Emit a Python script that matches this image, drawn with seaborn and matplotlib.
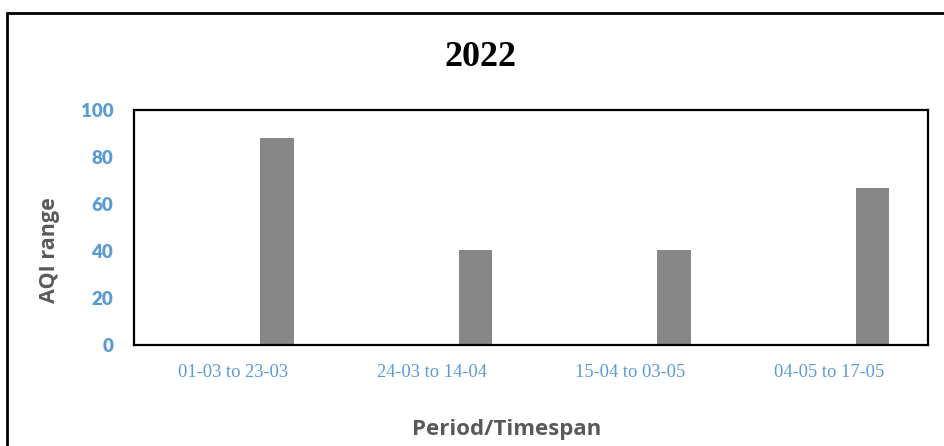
import matplotlib
matplotlib.use("Agg")
import matplotlib.pyplot as plt
from matplotlib.lines import Line2D
import seaborn as sns
import pandas as pd

# data
periods = ["01-03 to 23-03", "24-03 to 14-04", "15-04 to 03-05", "04-05 to 17-05"]
aqi = [88, 40.5, 40.3, 67]
yticks = [0, 20, 40, 60, 80, 100]

BLUE = "#5B9BD5"
GREY_TXT = "#595959"
BAR = "#878787"


def main():
    sns.set_style("white")
    df = pd.DataFrame({"period": periods, "aqi": aqi})

    fig = plt.figure(figsize=(9.44, 4.46), dpi=100)
    ax = fig.add_axes([134 / 944, 1 - 345 / 446, (928 - 134) / 944, (345 - 110) / 446])

    sns.barplot(data=df, x="period", y="aqi", color=BAR, width=0.17,
                saturation=1, ax=ax, edgecolor="none")
    # Excel-style cluster: the bar sits right of the category centre
    for p in ax.patches:
        p.set_x(p.get_x() + 0.22)

    ax.set_xlim(-0.5, len(periods) - 0.5)
    ax.set_ylim(0, 100)
    ax.set_yticks(yticks)
    ax.set_yticklabels([str(t) for t in yticks], fontsize=13.5, fontweight="heavy",
                       color=BLUE, family=["Lato", "DejaVu Sans"])
    ax.set_xticks(range(len(periods)))
    ax.set_xticklabels(periods, fontsize=13.3, color=BLUE,
                       family=["Liberation Serif", "DejaVu Serif"])
    ax.tick_params(axis="y", length=0, pad=15)
    ax.tick_params(axis="x", length=0, pad=14)

    for s in ax.spines.values():
        s.set_visible(True)
        s.set_color("black")
        s.set_linewidth(1.6)

    ax.set_xlabel("")
    ax.set_ylabel("")
    fig.text(49 / 944, 1 - 250 / 446, "AQI range", rotation=90, ha="center", va="center",
             fontsize=15.5, fontweight="bold", color=GREY_TXT, family=["Open Sans", "DejaVu Sans"])
    fig.text(507 / 944, 1 - 430 / 446, "Period/Timespan", ha="center", va="center",
             fontsize=16, fontweight="bold", color=GREY_TXT, family=["Open Sans", "DejaVu Sans"])
    fig.text(481 / 944, 1 - 57 / 446, "2022", ha="center", va="center",
             fontsize=26, fontweight="bold", color="black",
             family=["Liberation Serif", "DejaVu Serif"])

    # outer chart frame (top and left edges visible)
    x0, y0 = 7 / 944, 1 - 13 / 446
    fig.add_artist(Line2D([x0, 1], [y0, y0], color="black", lw=2, transform=fig.transFigure))
    fig.add_artist(Line2D([x0, x0], [0, y0], color="black", lw=2, transform=fig.transFigure))

    fig.savefig("out.png", dpi=100)


if __name__ == "__main__":
    main()
